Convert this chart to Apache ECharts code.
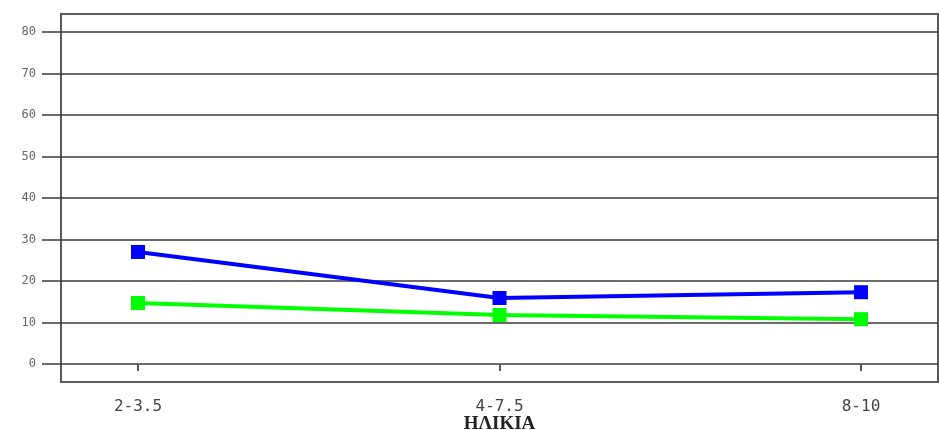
<!DOCTYPE html>
<html>
<head>
<meta charset="utf-8">
<script src="https://cdn.jsdelivr.net/npm/echarts@6/dist/echarts.min.js"></script>
<style>html,body{margin:0;padding:0;background:#fff}#c{width:939px;height:430px}</style>
</head>
<body>
<div id="c"></div>
<script>
const categories = ['2-3.5', '4-7.5', '8-10'];
const blueValues = [27.0, 15.9, 17.3];
const greenValues = [14.7, 11.8, 10.8];
const yTicks = { min: 0, max: 80, interval: 10 };
const xTitle = 'ΗΛΙΚΙΑ';

const chart = echarts.init(document.getElementById('c'), null, { renderer: 'canvas' });
chart.setOption({
  animation: false,
  backgroundColor: '#ffffff',
  grid: [
    { left: 61, right: 1, top: 14, bottom: 48, show: true, borderColor: '#5a5a5a', borderWidth: 2, backgroundColor: 'transparent', containLabel: false, outerBoundsMode: 'none' },
    { left: 42, right: 1, top: 32, bottom: 66, containLabel: false, outerBoundsMode: 'none' },
    { left: 138, right: 78, top: 32, bottom: 48, containLabel: false, outerBoundsMode: 'none' }
  ],
  xAxis: [
    { gridIndex: 0, type: 'value', show: false, min: 0, max: 1 },
    { gridIndex: 1, type: 'value', show: false, min: 0, max: 1 },
    {
      gridIndex: 2, type: 'category', data: categories, boundaryGap: false,
      axisLine: { show: false },
      axisTick: { show: true, length: 7, lineStyle: { color: '#555', width: 2 } },
      axisLabel: { margin: 17, color: '#444', fontSize: 16, fontFamily: 'DejaVu Sans Mono' },
      name: xTitle, nameLocation: 'middle', nameGap: 33, nameMoveOverlap: false,
      nameTextStyle: { fontFamily: 'Liberation Serif', fontWeight: 'bold', fontSize: 19, color: '#222' }
    }
  ],
  yAxis: [
    { gridIndex: 0, type: 'value', show: false, min: 0, max: 1 },
    {
      gridIndex: 1, type: 'value', min: yTicks.min, max: yTicks.max, interval: yTicks.interval,
      axisLine: { show: false }, axisTick: { show: false },
      axisLabel: { margin: 6, color: '#666', fontSize: 12, fontFamily: 'DejaVu Sans Mono' },
      splitLine: { show: true, lineStyle: { color: '#3a3a3a', width: 1.5 } }
    },
    { gridIndex: 2, type: 'value', show: false, min: -4.34, max: yTicks.max }
  ],
  series: [
    {
      type: 'line', xAxisIndex: 2, yAxisIndex: 2, data: blueValues,
      symbol: 'rect', symbolSize: 14,
      lineStyle: { color: '#0000ff', width: 4 }, itemStyle: { color: '#0000ff' }
    },
    {
      type: 'line', xAxisIndex: 2, yAxisIndex: 2, data: greenValues,
      symbol: 'rect', symbolSize: 14,
      lineStyle: { color: '#00ff00', width: 4 }, itemStyle: { color: '#00ff00' }
    }
  ]
});
</script>
</body>
</html>
